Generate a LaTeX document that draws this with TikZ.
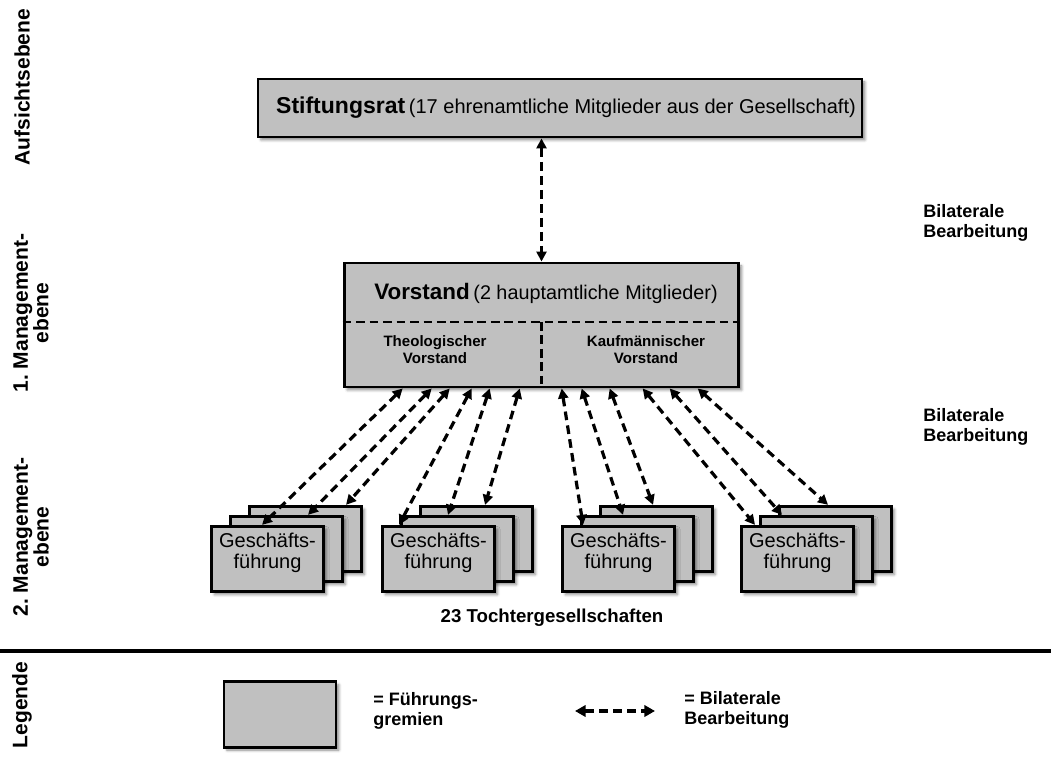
\documentclass[tikz,border=0pt]{standalone}
\usepackage{fontspec}
\setmainfont{Liberation Sans}
\usetikzlibrary{arrows.meta,shadows.blur,calc}
\frenchspacing

\definecolor{boxgray}{RGB}{192,192,192}

\tikzset{
  gremium/.style={draw=black, line width=2.2pt, fill=boxgray, inner sep=0pt,
    blur shadow={shadow xshift=2.2pt, shadow yshift=-2.2pt, shadow blur radius=2pt, shadow opacity=45}},
  gf/.style={gremium, minimum width=84pt, minimum height=49pt},
  gftext/.style={align=center, inner sep=0pt, font=\fontsize{15}{15.75}\selectfont},
  bilateral/.style={line width=2.4pt, dash pattern=on 6.5pt off 4pt,
    {Triangle[length=7.5pt,width=7.5pt]}-{Triangle[length=7.5pt,width=7.5pt]}},
  divider/.style={line width=1.8pt, dash pattern=on 6.5pt off 3.6pt},
  ebene/.style={rotate=90, align=center, inner sep=0pt, font=\bfseries\fontsize{15.75}{15.5}\selectfont},
  hint/.style={align=left, anchor=west, inner sep=0pt, font=\bfseries\fontsize{13.5}{15}\selectfont},
  subtext/.style={align=center, inner sep=0pt, font=\bfseries\fontsize{11.3}{12.75}\selectfont},
}

\begin{document}
\begin{tikzpicture}[x=0.75pt, y=-0.75pt]
\useasboundingbox (0,0) rectangle (1051,760);

% level labels on the left
\node[ebene] (lAuf) at (22,87) {Aufsichtsebene};
\node[ebene] (lM1) at (31,313) {1. Management-\\ebene};
\node[ebene] (lM2) at (31,537) {2. Management-\\ebene};
\node[ebene] (lLeg) at (22,705) {Legende};

% supervisory board
\node[gremium, minimum width=453pt, minimum height=43.5pt] (stift) at (560,108)
  {\hspace*{9pt}{\bfseries\fontsize{17.25}{20}\selectfont Stiftungsrat} {\fontsize{15}{18}\selectfont(17 ehrenamtliche Mitglieder aus der Gesellschaft)}};

% executive board
\node[gremium, minimum width=296pt, minimum height=93pt] (vorstand) at (541.5,325) {};
\node[inner sep=0pt] (vtitle) at (546,293)
  {{\bfseries\fontsize{16.8}{20}\selectfont Vorstand} {\fontsize{14.85}{18}\selectfont(2 hauptamtliche Mitglieder)}};
\coordinate (sepL) at ($(vorstand.north west)!0.476!(vorstand.south west)$);
\coordinate (sepR) at ($(vorstand.north east)!0.476!(vorstand.south east)$);
\draw[divider] (sepL) -- (sepR);
\draw[divider] (vorstand.south |- sepL) -- (vorstand.south);
\node[subtext] (vTheo) at (435,349.5) {Theologischer\\Vorstand};
\node[subtext] (vKauf) at (646,349.5) {Kaufmännischer\\Vorstand};

\draw[bilateral] (vorstand.north |- stift.south) -- (vorstand.north);

% management of the subsidiaries: four stacks of three boxes
\foreach \g/\cx in {1/267.5, 2/438.5, 3/618.5, 4/797.5}{
  \node[gf] (g\g c) at ({\cx+38},539) {};
  \node[gf] (g\g b) at ({\cx+19},549) {};
  \node[gf] (g\g a) at (\cx,559) {};
  \node[gftext] (g\g t) at (\cx,552.5) {Geschäfts-\\führung};
}

\node[inner sep=0pt, font=\bfseries\fontsize{14}{16}\selectfont] (toechter) at (552,618) {23 Tochtergesellschaften};

% bilateral lines between the executive board and the subsidiaries
\foreach \xs/\tgt/\dx in {60/g1a/52, 89/g1b/79, 107/g1c/98,
                          129/g2a/18, 147/g2b/48, 177/g2c/66,
                          219/g3a/22, 239/g3b/43, 267/g3c/54,
                          300/g4a/15, 327/g4b/23, 355/g4c/50}{
  \draw[bilateral] ($(vorstand.south west)+(\xs,0)$) -- ($(\tgt.north west)+(\dx,0)$);
}

\node[hint] (bil1) at (923,223) {Bilaterale\\Bearbeitung};
\node[hint] (bil2) at (923,427) {Bilaterale\\Bearbeitung};

% separator above the legend
\coordinate (ruleL) at (0,651);
\coordinate (ruleR) at (1051,651);
\draw[line width=2.3pt] (ruleL) -- (ruleR);

% legend
\node[gf] (legBox) at (280,714.5) {};
\node[hint] (legBoxText) at (373,711) {= Führungs-\\gremien};
\coordinate (legA) at (575,711);
\coordinate (legB) at (655,711);
\draw[bilateral, {Triangle[length=8pt,width=8.5pt]}-{Triangle[length=8pt,width=8.5pt]}] (legA) -- (legB);
\node[hint] (legArrText) at (684,710) {= Bilaterale\\Bearbeitung};
\end{tikzpicture}
\end{document}
